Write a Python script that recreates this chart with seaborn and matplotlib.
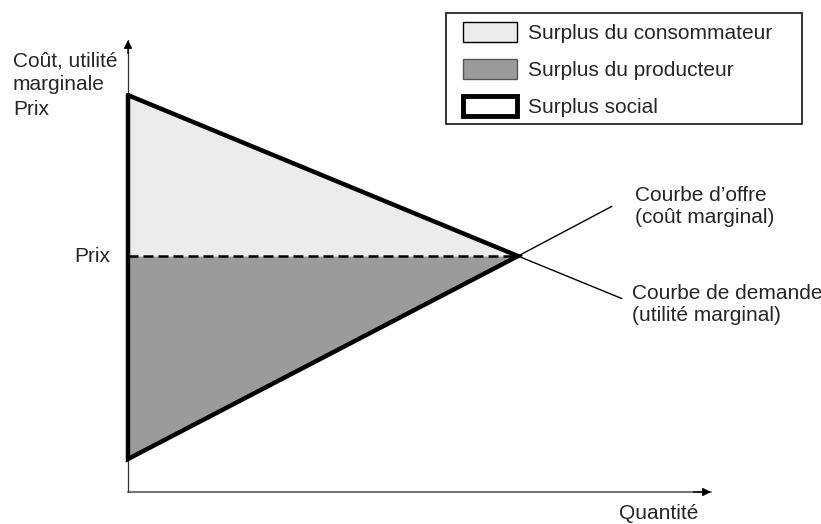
import matplotlib
matplotlib.use("Agg")
import matplotlib.pyplot as plt
import seaborn as sns
from matplotlib.patches import Patch, Rectangle

# Données du schéma (unités arbitraires, axes 0..100)
quantite_demande = [0, 66.9, 84.7]
demande = [87.8, 52.2, 42.8]
quantite_offre = [0, 66.9, 83.0]
offre = [7.3, 52.2, 63.2]
prix_equilibre = 52.2
q_equilibre = 66.9

labels_legende = ["Surplus du consommateur", "Surplus du producteur", "Surplus social"]
label_y = "Coût, utilité\nmarginale\nPrix"
label_x = "Quantité"
label_prix = "Prix"
label_offre = "Courbe d\u2019offre\n(coût marginal)"
label_demande = "Courbe de demande\n(utilité marginal)"

sns.set_theme(style="white")
plt.rcParams['font.family'] = ['Liberation Sans', 'DejaVu Sans']
taille = 15

c_conso = "#ececec"
c_prod = "#9b9b9b"

fig = plt.figure(figsize=(8.21, 5.24), dpi=100)
ax = fig.add_axes([128 / 821, 32 / 524, 583 / 821, 452 / 524])
ax.set_xlim(0, 100)
ax.set_ylim(0, 100)
ax.axis("off")

# Surfaces
ax.fill_between(quantite_demande[:2], demande[:2], prix_equilibre,
                color=c_conso, lw=0, zorder=1)
ax.fill_between(quantite_offre[:2], offre[:2], prix_equilibre,
                color=c_prod, lw=0, zorder=1)

# Axes avec flèches
ax.plot([0, 100], [0, 0], color="#777777", lw=1.5, clip_on=False, zorder=2)
ax.plot([0, 0], [0, 100], color="#333333", lw=0.9, clip_on=False, zorder=2)
ax.annotate("", xy=(100, 0), xytext=(97, 0),
            arrowprops=dict(arrowstyle="-|>", color="black", lw=1,
                            shrinkA=0, shrinkB=0, mutation_scale=12),
            annotation_clip=False)
ax.annotate("", xy=(0, 100), xytext=(0, 97),
            arrowprops=dict(arrowstyle="-|>", color="black", lw=1,
                            shrinkA=0, shrinkB=0, mutation_scale=12),
            annotation_clip=False)

# Prix d'équilibre (pointillés)
ax.plot([0, q_equilibre], [prix_equilibre, prix_equilibre], color="black",
        lw=1.8, dashes=(4, 2), zorder=3)

# Prolongements des courbes
sns.lineplot(x=quantite_demande[1:], y=demande[1:], color="black", lw=1,
             ax=ax, zorder=3)
sns.lineplot(x=quantite_offre[1:], y=offre[1:], color="black", lw=1,
             ax=ax, zorder=3)

# Triangle du surplus social
tri_x = [quantite_demande[0], quantite_demande[1], quantite_offre[0], quantite_demande[0]]
tri_y = [demande[0], demande[1], offre[0], demande[0]]
sns.lineplot(x=tri_x, y=tri_y, sort=False, estimator=None, color="black",
             lw=3.2, ax=ax, zorder=4)
for l in ax.lines[-1:]:
    l.set_solid_joinstyle("miter")
    l.set_clip_on(False)

# Textes
fig.text(13 / 821, 1 - 85 / 524, label_y, fontsize=taille, ha="left", va="center",
         linespacing=1.35)
ax.annotate(label_prix, xy=(0, prix_equilibre), xytext=(-18, 0),
            textcoords="offset pixels", fontsize=taille, ha="right", va="center")
ax.annotate(label_offre, xy=(quantite_offre[-1], offre[-1]), xytext=(23, 0),
            textcoords="offset pixels", fontsize=taille, ha="left", va="center",
            annotation_clip=False)
ax.annotate(label_demande, xy=(quantite_demande[-1], demande[-1]), xytext=(10, -6),
            textcoords="offset pixels", fontsize=taille, ha="left", va="center",
            annotation_clip=False)
fig.text(659 / 821, 5 / 524, label_x, fontsize=taille, ha="center", va="baseline")

# Légende
handles = [
    Patch(facecolor=c_conso, edgecolor="black", lw=1),
    Patch(facecolor=c_prod, edgecolor="#555555", lw=1),
    Patch(facecolor="white", edgecolor="black", lw=3.5),
]
fig.legend(handles, labels_legende, loc="upper left",
           bbox_to_anchor=(463 / 821, 1 - 22 / 524), frameon=False,
           fontsize=taille, handlelength=2.6, handleheight=1.1,
           handletextpad=0.5, labelspacing=0.76, borderpad=0, borderaxespad=0)
fig.patches.append(Rectangle((445.7 / 821, 1 - 124 / 524), (802 - 445.7) / 821,
                             (124 - 13.3) / 524, transform=fig.transFigure,
                             facecolor="none", edgecolor="black", lw=1.1))

fig.savefig("out.png", dpi=100)
